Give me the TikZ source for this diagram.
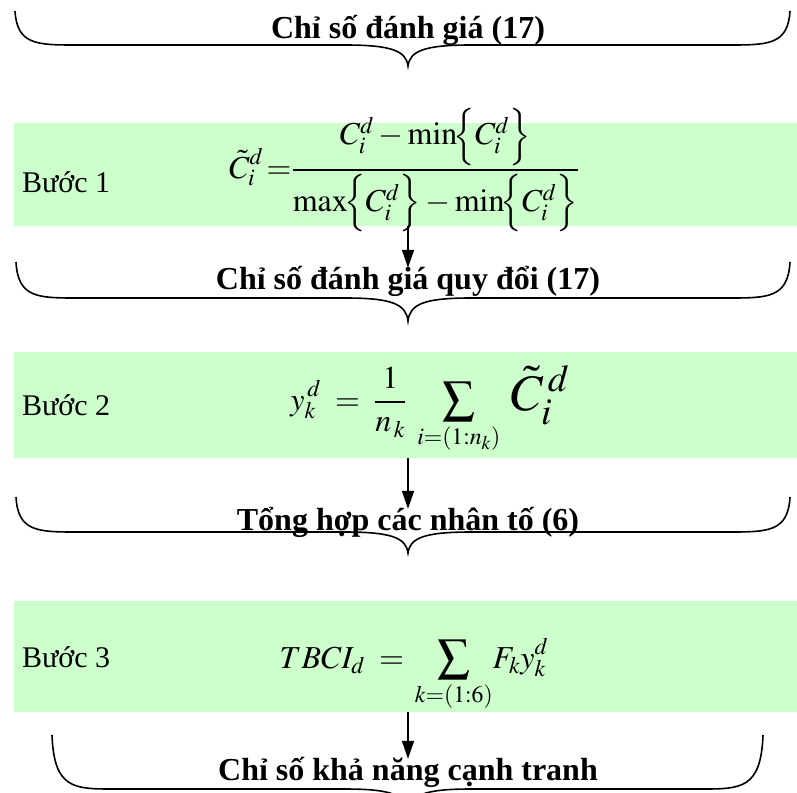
\documentclass[tikz,border=0pt]{standalone}
\usepackage{mathptmx}
\usepackage{amsmath}
\usepackage{graphicx}
\usepackage{fontspec}
\setmainfont{Liberation Serif}
\usetikzlibrary{arrows.meta}
\definecolor{stepGreen}{HTML}{CCFFCC}

% curly brace opening downwards: left x, right x, end y, line y, tip y
\newcommand{\bracedown}[5]{%
  \draw[brace] (#1,#3) .. controls (#1+2,#4) and (#1+22,#4) .. (#1+62,#4)
    -- (345,#4) .. controls (392,#4) and (406,#4+6) .. (408,#5)
    .. controls (410,#4+6) and (424,#4) .. (471,#4)
    -- (#2-62,#4) .. controls (#2-22,#4) and (#2-2,#4) .. (#2,#3);
}
% tall set braces round C_i^d
\newcommand{\setC}{\!\Bigl\{C_i^d\Bigr\}}

\begin{document}
\begin{tikzpicture}[x=1pt,y=-1pt,
  lab/.style={anchor=base,inner sep=0pt,text height=21pt,font=\fontsize{32}{38}\selectfont\bfseries},
  stepname/.style={anchor=base west,inner sep=0pt,font=\fontsize{30}{36}\selectfont},
  eqn/.style={anchor=base,inner sep=0pt,font=\fontsize{32}{38}\selectfont},
  stepbox/.style={fill=stepGreen,draw=none,anchor=north west,minimum width=783pt,inner sep=0pt},
  arr/.style={line width=1.5pt,-{Triangle[width=12pt,length=18pt]}},
  brace/.style={line width=1.6pt}]
\useasboundingbox (0,0) rectangle (797,792);

% green bands
\node[stepbox,minimum height=103pt] (box1) at (14,123) {};
\node[stepbox,minimum height=106pt] (box2) at (14,352) {};
\node[stepbox,minimum height=111pt] (box3) at (14,601) {};

% braces
\bracedown{15}{790}{11}{45}{66}
\bracedown{16}{790}{262}{298}{321}
\bracedown{16}{790}{497}{532}{553}
\bracedown{52}{763}{735}{789}{812}

% labels
\node[lab] (lab1) at (408,38) {Chỉ số đánh giá (17)};
\node[lab] (lab2) at (408,289) {Chỉ số đánh giá quy đổi (17)};
\node[lab] (lab3) at (408,530) {Tổng hợp các nhân tố (6)};
\node[lab] (lab4) at (408,780) {Chỉ số khả năng cạnh tranh};

% steps
\node[stepname] (step1) at (22,192) {Bước 1};
\node[stepname] (step2) at (22,415) {Bước 2};
\node[stepname] (step3) at (22,667) {Bước 3};

% formulas
\node[eqn] (eq1) at (404,178)
  {$\displaystyle \tilde{C}_i^d\,{=}\frac{C_i^d-\min\setC}{\max\setC-\min\setC}$};
\node[eqn] (eq2) at (430,410)
  {$\displaystyle y_k^{\,d}\;=\;\frac{1}{n_{\,k}}\;\sum_{i=(1:n_k)}\;\scalebox{1.6}{$\tilde{C}^{\,d}_{i}$}$};
\node[eqn] (eq3) at (414,668)
  {$\displaystyle TBCI_d\;=\,\sum_{k=(1:6)}\!F_k y_k^d$};

% arrows
\draw[arr] (box1.south -| lab2) -- (lab2.north);
\draw[arr] (box2.south -| lab3) -- (lab3.north);
\draw[arr] (box3.south -| lab4) -- (lab4.north);
\end{tikzpicture}
\end{document}
